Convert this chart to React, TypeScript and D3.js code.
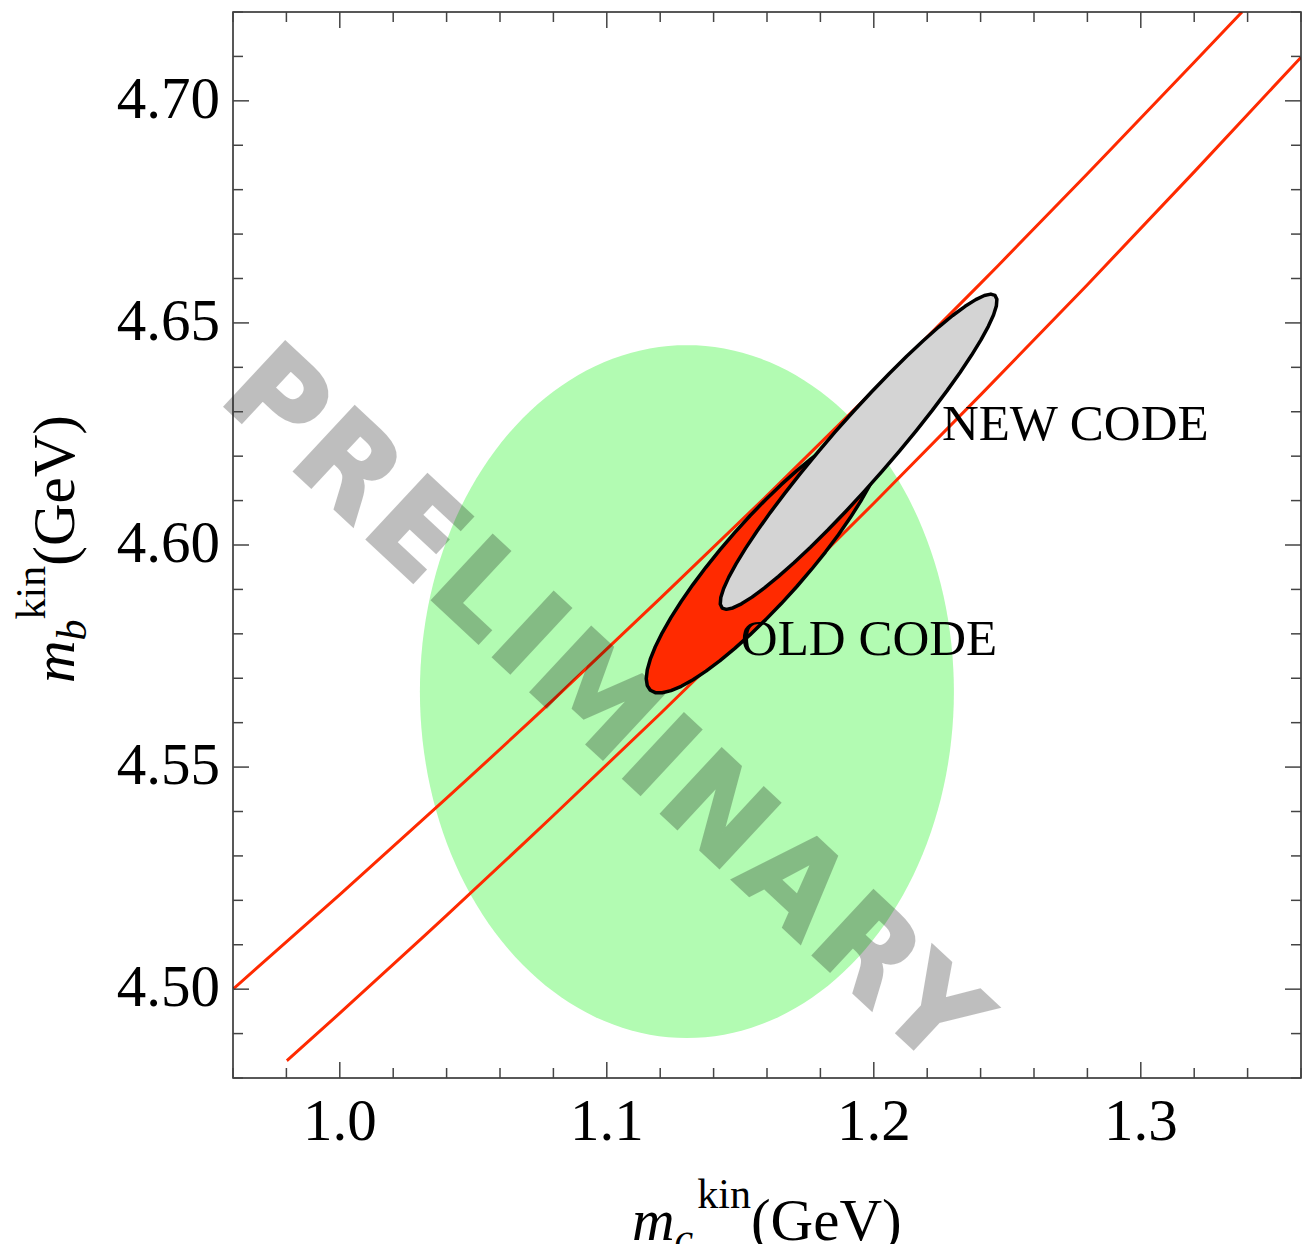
import React from "react";
import * as d3 from "d3";

// Plot ranges (GeV)
const MC_DOMAIN: [number, number] = [0.96, 1.36];
const MB_DOMAIN: [number, number] = [4.48, 4.72];

// Tick marks and labels
const xMajorTicks = [1.0, 1.1, 1.2, 1.3];
const xTickLabels = ["1.0", "1.1", "1.2", "1.3"];
const yMajorTicks = [4.5, 4.55, 4.6, 4.65, 4.7];
const yTickLabels = ["4.50", "4.55", "4.60", "4.65", "4.70"];
const xMinorTicks = d3.range(96, 137, 2).map((v) => v / 100);
const yMinorTicks = d3.range(448, 473, 1).map((v) => v / 100);

// Constraint band edges (m_b vs m_c)
const upperBandMc = [0.96, 1.0, 1.04, 1.08, 1.12, 1.16, 1.2, 1.24, 1.28, 1.32, 1.3379];
const upperBandMb = [4.5, 4.5213, 4.543, 4.5652, 4.588, 4.6111, 4.6348, 4.6589, 4.6836, 4.7087, 4.72];
const lowerBandMc = [0.9802, 1.0, 1.04, 1.08, 1.12, 1.16, 1.2, 1.24, 1.28, 1.32, 1.36];
const lowerBandMb = [4.4839, 4.4946, 4.5166, 4.5391, 4.562, 4.5855, 4.6094, 4.6338, 4.6586, 4.684, 4.7098];

// Prior region (axis-aligned ellipse): center and semi-axes
const priorCenter = [1.13, 4.567];
const priorRadii = [0.1, 0.078];

// Fit contours: center, semi-major vector, semi-minor vector (GeV)
const oldCenter = [1.1595, 4.5967];
const oldMajor = [0.0432, 0.0294];
const oldMinor = [0.0116, -0.0061];
const newCenter = [1.1943, 4.621];
const newMajor = [0.0511, 0.0352];
const newMinor = [0.0087, -0.0045];

// Label anchors (GeV)
const newLabelPos = [1.2255, 4.6237];
const oldLabelPos = [1.1502, 4.5753];

const W = 1302;
const H = 1244;
const LEFT = 233;
const RIGHT = 1301;
const TOP = 12;
const BOTTOM = 1078;

const SERIF = "'Liberation Serif', 'Times New Roman', serif";
const RED = "#ff2a00";

function contour(c: number[], a: number[], b: number[], n: number): [number, number][] {
  return d3.range(n).map((i) => {
    const t = (i / n) * Math.PI * 2;
    return [c[0] + Math.cos(t) * a[0] + Math.sin(t) * b[0], c[1] + Math.cos(t) * a[1] + Math.sin(t) * b[1]];
  });
}

export default function App() {
  const x = d3.scaleLinear().domain(MC_DOMAIN).range([LEFT, RIGHT]);
  const y = d3.scaleLinear().domain(MB_DOMAIN).range([BOTTOM, TOP]);

  const curve = d3
    .line<[number, number]>()
    .x((d) => x(d[0]))
    .y((d) => y(d[1]))
    .curve(d3.curveNatural);
  const closed = d3
    .line<[number, number]>()
    .x((d) => x(d[0]))
    .y((d) => y(d[1]))
    .curve(d3.curveLinearClosed);

  const upper = upperBandMc.map((m, i) => [m, upperBandMb[i]] as [number, number]);
  const lower = lowerBandMc.map((m, i) => [m, lowerBandMb[i]] as [number, number]);

  const prior = contour(priorCenter, [priorRadii[0], 0], [0, priorRadii[1]], 180);
  const oldC = contour(oldCenter, oldMajor, oldMinor, 48);
  const newC = contour(newCenter, newMajor, newMinor, 48);

  const isMajorX = (v: number) => xMajorTicks.some((m) => Math.abs(m - v) < 1e-6);
  const isMajorY = (v: number) => yMajorTicks.some((m) => Math.abs(m - v) < 1e-6);

  return (
    <svg
      width={W}
      height={H}
      viewBox={`0 0 ${W} ${H}`}
      style={{ position: "absolute", left: 0, top: 0, background: "#fff" }}
    >
      <defs>
        <clipPath id="plotArea">
          <rect x={LEFT} y={TOP} width={RIGHT - LEFT} height={BOTTOM - TOP} />
        </clipPath>
      </defs>

      <g clipPath="url(#plotArea)">
        <path d={closed(prior) ?? ""} fill="#b2fbb2" />
        <path d={curve(upper) ?? ""} fill="none" stroke={RED} strokeWidth={3} />
        <path d={curve(lower) ?? ""} fill="none" stroke={RED} strokeWidth={3} />
      </g>

      {/* watermark */}
      <g opacity={0.25}>
        <text
          transform="translate(217,399) rotate(43)"
          fontFamily="'DejaVu Sans', 'Liberation Sans', sans-serif"
          fontWeight="bold"
          fontSize={121}
          fill="#000"
          stroke="#000"
          strokeWidth={3}
          strokeLinejoin="miter"
          textLength={985}
          lengthAdjust="spacing"
        >
          PRELIMINARY
        </text>
      </g>

      <g clipPath="url(#plotArea)">
        <path d={closed(oldC) ?? ""} fill={RED} stroke="#000" strokeWidth={3.5} strokeLinejoin="round" />
        <path d={closed(newC) ?? ""} fill="#d4d4d4" stroke="#000" strokeWidth={3.5} strokeLinejoin="round" />
      </g>

      <text x={x(newLabelPos[0])} y={y(newLabelPos[1])} fontFamily={SERIF} fontSize={51} fill="#000">
        NEW CODE
      </text>
      <text x={x(oldLabelPos[0])} y={y(oldLabelPos[1])} fontFamily={SERIF} fontSize={51} fill="#000">
        OLD CODE
      </text>

      {/* frame */}
      <rect
        x={LEFT}
        y={TOP}
        width={RIGHT - LEFT}
        height={BOTTOM - TOP}
        fill="none"
        stroke="#222"
        strokeWidth={1.5}
      />

      {/* x ticks, bottom and top */}
      {xMinorTicks.map((v) => {
        const len = isMajorX(v) ? 16 : 10;
        const px = x(v);
        return (
          <g key={`x${v}`} stroke="#444" strokeWidth={1.5}>
            <line x1={px} x2={px} y1={BOTTOM} y2={BOTTOM - len} />
            <line x1={px} x2={px} y1={TOP} y2={TOP + len} />
          </g>
        );
      })}
      {/* y ticks, left and right */}
      {yMinorTicks.map((v) => {
        const len = isMajorY(v) ? 16 : 10;
        const py = y(v);
        return (
          <g key={`y${v}`} stroke="#444" strokeWidth={1.5}>
            <line x1={LEFT} x2={LEFT + len} y1={py} y2={py} />
            <line x1={RIGHT} x2={RIGHT - len} y1={py} y2={py} />
          </g>
        );
      })}

      {xMajorTicks.map((v, i) => (
        <text key={`xl${v}`} x={x(v)} y={1140} textAnchor="middle" fontFamily={SERIF} fontSize={59} fill="#000">
          {xTickLabels[i]}
        </text>
      ))}
      {yMajorTicks.map((v, i) => (
        <text key={`yl${v}`} x={220} y={y(v) + 17} textAnchor="end" fontFamily={SERIF} fontSize={59} fill="#000">
          {yTickLabels[i]}
        </text>
      ))}

      {/* axis titles */}
      <text x={632} y={1240} fontFamily={SERIF} fontSize={59} fill="#000">
        <tspan fontStyle="italic">m</tspan>
        <tspan fontStyle="italic" fontSize={42} dy={12}>
          c
        </tspan>
        <tspan fontSize={42} dx={4} dy={-44}>
          kin
        </tspan>
        <tspan dy={32}>(GeV)</tspan>
      </text>
      <text transform="translate(74,683) rotate(-90)" fontFamily={SERIF} fontSize={59} fill="#000">
        <tspan fontStyle="italic">m</tspan>
        <tspan fontStyle="italic" fontSize={42} dy={12}>
          b
        </tspan>
        <tspan fontSize={42} dx={0} dy={-41}>
          kin
        </tspan>
        <tspan dy={29}>(GeV)</tspan>
      </text>
    </svg>
  );
}
